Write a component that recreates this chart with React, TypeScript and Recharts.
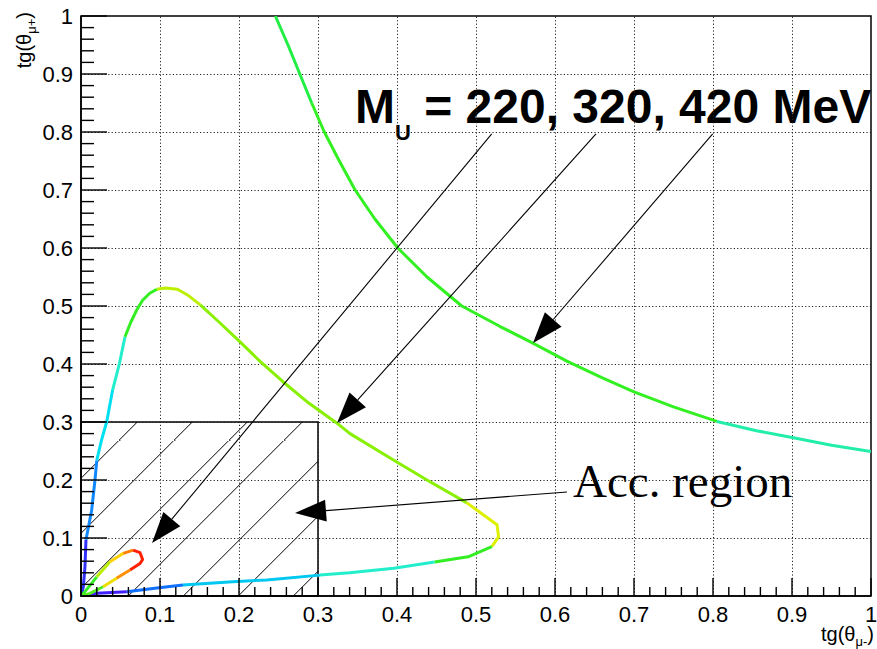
import React from 'react';
import {
  ComposedChart, Line, XAxis, YAxis, ReferenceLine, ReferenceArea, Customized
} from 'recharts';

// M_U = 420 MeV curve, from the top edge down to the right edge
const curve420 = [
  { x: 0.246, y: 1.0 }, { x: 0.262, y: 0.95 }, { x: 0.277, y: 0.9 },
  { x: 0.292, y: 0.85 }, { x: 0.308, y: 0.8 }, { x: 0.327, y: 0.75 },
  { x: 0.347, y: 0.7 }, { x: 0.372, y: 0.65 }, { x: 0.401, y: 0.6 },
  { x: 0.438, y: 0.55 }, { x: 0.482, y: 0.5 }, { x: 0.53, y: 0.465 },
  { x: 0.572, y: 0.436 }, { x: 0.615, y: 0.405 }, { x: 0.66, y: 0.376 },
  { x: 0.7, y: 0.352 }, { x: 0.75, y: 0.326 }, { x: 0.805, y: 0.301 },
  { x: 0.855, y: 0.285 }, { x: 0.905, y: 0.272 }, { x: 0.95, y: 0.26 },
  { x: 1.0, y: 0.249 },
];

// M_U = 320 MeV curve, closed loop starting and ending at the origin
const curve320 = [
  { x: 0.0, y: 0.0 }, { x: 0.003, y: 0.016 }, { x: 0.005, y: 0.05 },
  { x: 0.0063, y: 0.097 }, { x: 0.0135, y: 0.148 }, { x: 0.0177, y: 0.2 },
  { x: 0.02, y: 0.234 }, { x: 0.026, y: 0.269 }, { x: 0.0325, y: 0.3 },
  { x: 0.04, y: 0.355 }, { x: 0.0485, y: 0.4 }, { x: 0.0557, y: 0.447 },
  { x: 0.063, y: 0.472 }, { x: 0.0705, y: 0.493 }, { x: 0.078, y: 0.51 },
  { x: 0.087, y: 0.522 }, { x: 0.096, y: 0.529 }, { x: 0.107, y: 0.531 },
  { x: 0.122, y: 0.529 }, { x: 0.136, y: 0.518 }, { x: 0.151, y: 0.502 },
  { x: 0.175, y: 0.472 }, { x: 0.201, y: 0.4385 }, { x: 0.227, y: 0.404 },
  { x: 0.256, y: 0.369 }, { x: 0.286, y: 0.335 }, { x: 0.324, y: 0.298 },
  { x: 0.3405, y: 0.28 }, { x: 0.396, y: 0.234 }, { x: 0.439, y: 0.199 },
  { x: 0.488, y: 0.161 }, { x: 0.5266, y: 0.123 }, { x: 0.5286, y: 0.102 },
  { x: 0.52, y: 0.085 }, { x: 0.49, y: 0.0676 }, { x: 0.4475, y: 0.0588 },
  { x: 0.396, y: 0.048 }, { x: 0.34, y: 0.04 }, { x: 0.3025, y: 0.036 },
  { x: 0.235, y: 0.0276 }, { x: 0.192, y: 0.0247 }, { x: 0.129, y: 0.019 },
  { x: 0.096, y: 0.0138 }, { x: 0.058, y: 0.0075 }, { x: 0.02, y: 0.0046 },
  { x: 0.0, y: 0.0 },
];

// M_U = 220 MeV curve, small loop near the origin
const curve220 = [
  { x: 0.0, y: 0.0 }, { x: 0.005, y: 0.0075 }, { x: 0.02, y: 0.033 },
  { x: 0.0367, y: 0.059 }, { x: 0.0536, y: 0.0736 }, { x: 0.066, y: 0.079 },
  { x: 0.0747, y: 0.0747 }, { x: 0.078, y: 0.063 }, { x: 0.0747, y: 0.056 },
  { x: 0.062, y: 0.0448 }, { x: 0.045, y: 0.0305 }, { x: 0.028, y: 0.016 },
  { x: 0.0114, y: 0.0046 }, { x: 0.0, y: 0.0 },
];

// colour runs along each curve (end index, colour)
const runs420 = [
  { end: 3, color: '#22ee44' }, { end: 17, color: '#33f022' },
  { end: 21, color: '#22eeaa' },
];
const runs320 = [
  { end: 3, color: '#3030ff' }, { end: 6, color: '#1088ff' },
  { end: 9, color: '#00e0f0' }, { end: 11, color: '#22eecc' },
  { end: 16, color: '#33ee22' }, { end: 20, color: '#bbf000' },
  { end: 30, color: '#88f000' }, { end: 33, color: '#ddf000' },
  { end: 35, color: '#33ee22' }, { end: 38, color: '#22eecc' },
  { end: 41, color: '#00c8f0' }, { end: 43, color: '#1070ff' },
  { end: 45, color: '#4020ff' },
];
const runs220 = [
  { end: 2, color: '#33ee22' }, { end: 3, color: '#bbee00' },
  { end: 4, color: '#ffd000' }, { end: 5, color: '#ff8000' },
  { end: 9, color: '#ff2000' }, { end: 10, color: '#ff9000' },
  { end: 11, color: '#eedd00' }, { end: 13, color: '#55ee22' },
];

const majorTicks = [0, 0.1, 0.2, 0.3, 0.4, 0.5, 0.6, 0.7, 0.8, 0.9, 1];
const gridValues = majorTicks.slice(1, -1);
const allTicks: number[] = [];
majorTicks.slice(0, -1).forEach(t => {
  for (let k = 0; k < 5; k++) allTicks.push(Math.round((t + k * 0.02) * 100) / 100);
});
allTicks.push(1);

// annotation arrows: [start, tip] in data units
const arrows = [
  { from: { x: 0.7996, y: 0.7966 }, to: { x: 0.5722, y: 0.4362 } },
  { from: { x: 0.6519, y: 0.7966 }, to: { x: 0.3241, y: 0.2983 } },
  { from: { x: 0.5199, y: 0.7966 }, to: { x: 0.0899, y: 0.0914 } },
  { from: { x: 0.6152, y: 0.1793 }, to: { x: 0.2709, y: 0.1431 } },
];

const SANS = 'Liberation Sans, Arial, Helvetica, sans-serif';
const SERIF = 'Liberation Serif, Times New Roman, serif';

const isMajor = (v: number) => Math.abs(v * 10 - Math.round(v * 10)) < 1e-6;
const fmt = (v: number) => (v === 0 ? '0' : v === 1 ? '1' : v.toFixed(1));
const snap = (v: number) => Math.round(v) + 0.5;

const XTick = (props: any) => {
  const { x, y, payload } = props;
  const major = isMajor(payload.value);
  return (
    <g>
      <line x1={x} y1={y} x2={x} y2={y - (major ? 18 : 9)} stroke="#000" strokeWidth={1.4} />
      {major && (
        <text x={x} y={y + 26} textAnchor="middle" fontFamily={SANS} fontSize={22} fill="#000">
          {fmt(payload.value)}
        </text>
      )}
    </g>
  );
};

const YTick = (props: any) => {
  const { x, y, payload } = props;
  const major = isMajor(payload.value);
  return (
    <g>
      <line x1={x} y1={y} x2={x + (major ? 26 : 13)} y2={y} stroke="#000" strokeWidth={1.4} />
      {major && (
        <text x={x - 8} y={y + 8} textAnchor="end" fontFamily={SANS} fontSize={22} fill="#000">
          {fmt(payload.value)}
        </text>
      )}
    </g>
  );
};

const gridShape = (p: any) => {
  const { x1, y1, x2, y2 } = p;
  const vertical = Math.abs(x1 - x2) < 0.5;
  return (
    <line
      x1={vertical ? snap(x1) : x1}
      x2={vertical ? snap(x2) : x2}
      y1={vertical ? y1 : snap(y1)}
      y2={vertical ? y2 : snap(y2)}
      stroke="#222"
      strokeWidth={1}
      strokeDasharray="1.2 2.2"
    />
  );
};

const arrowShape = (p: any) => {
  const { x1, y1, x2, y2 } = p;
  const dx = x2 - x1, dy = y2 - y1;
  const len = Math.hypot(dx, dy) || 1;
  const ux = dx / len, uy = dy / len;
  const bx = x2 - ux * 31, by = y2 - uy * 31;
  const hw = 11;
  const pts = `${x2},${y2} ${bx - uy * hw},${by + ux * hw} ${bx + uy * hw},${by - ux * hw}`;
  return (
    <g>
      <line x1={x1} y1={y1} x2={bx} y2={by} stroke="#000" strokeWidth={1.1} />
      <polygon points={pts} fill="#000" />
    </g>
  );
};

const Overlay = () => (
  <g>
    <defs>
      <pattern id="hatch" patternUnits="userSpaceOnUse" x={9.3} y={0} width={55} height={55}>
        <path d="M0,55 L55,0 M-5,5 L5,-5 M50,60 L60,50" stroke="#000" strokeWidth={1} />
      </pattern>
    </defs>
    <text x={355} y={123} fontFamily={SANS} fontWeight="bold" fontSize={48} fill="#000">
      M<tspan dy={17} fontSize={22}>U</tspan><tspan dy={-17}> = 220, 320, 420 MeV</tspan>
    </text>
    <text x={573} y={497} fontFamily={SERIF} fontSize={47} fill="#000">Acc. region</text>
    <text x={874} y={641} textAnchor="end" fontFamily={SANS} fontSize={20} fill="#000">
      tg(θ<tspan dy={5} fontSize={13}>μ-</tspan><tspan dy={-5}>)</tspan>
    </text>
    <text transform="translate(31,12) rotate(-90)" textAnchor="end" fontFamily={SANS} fontSize={20} fill="#000">
      tg(θ<tspan dy={5} fontSize={13}>μ+</tspan><tspan dy={-5}>)</tspan>
    </text>
  </g>
);

const renderRuns = (data: { x: number; y: number }[], runs: { end: number; color: string }[], key: string) => {
  let start = 0;
  return runs.map((r, i) => {
    const seg = data.slice(start, r.end + 1);
    start = r.end;
    return (
      <Line
        key={`${key}-${i}`}
        data={seg}
        dataKey="y"
        type="linear"
        stroke={r.color}
        strokeWidth={3}
        strokeLinejoin="round"
        dot={false}
        activeDot={false}
        isAnimationActive={false}
      />
    );
  });
};

export default function App() {
  return (
    <div style={{ position: 'absolute', left: 0, top: 0, width: 877, height: 649, background: '#fff' }}>
      <ComposedChart width={877} height={649} margin={{ top: 16, right: 6, bottom: 23, left: 21 }}>
        <XAxis
          type="number"
          dataKey="x"
          domain={[0, 1]}
          ticks={allTicks}
          interval={0}
          tick={XTick}
          tickLine={false}
          tickSize={0}
          tickMargin={0}
          height={30}
          allowDataOverflow
          axisLine={{ stroke: '#000', strokeWidth: 1.5 }}
        />
        <YAxis
          type="number"
          domain={[0, 1]}
          ticks={allTicks}
          interval={0}
          tick={YTick}
          tickLine={false}
          tickSize={0}
          tickMargin={0}
          width={60}
          allowDataOverflow
          axisLine={{ stroke: '#000', strokeWidth: 1.5 }}
        />
        <Customized component={Overlay} />
        {gridValues.map(v => (
          <ReferenceLine key={`gx${v}`} x={v} shape={gridShape} />
        ))}
        {gridValues.map(v => (
          <ReferenceLine key={`gy${v}`} y={v} shape={gridShape} />
        ))}
        <ReferenceArea x1={0} x2={0.3} y1={0} y2={0.3} fill="url(#hatch)" fillOpacity={1} stroke="#000" strokeWidth={1.5} />
        <ReferenceArea x1={0} x2={1} y1={0} y2={1} fill="none" stroke="#000" strokeWidth={1.5} />
        {renderRuns(curve420, runs420, 'c420')}
        {renderRuns(curve320, runs320, 'c320')}
        {renderRuns(curve220, runs220, 'c220')}
        {arrows.map((a, i) => (
          <ReferenceLine key={`ar${i}`} segment={[a.from, a.to]} shape={arrowShape} />
        ))}
      </ComposedChart>
    </div>
  );
}
